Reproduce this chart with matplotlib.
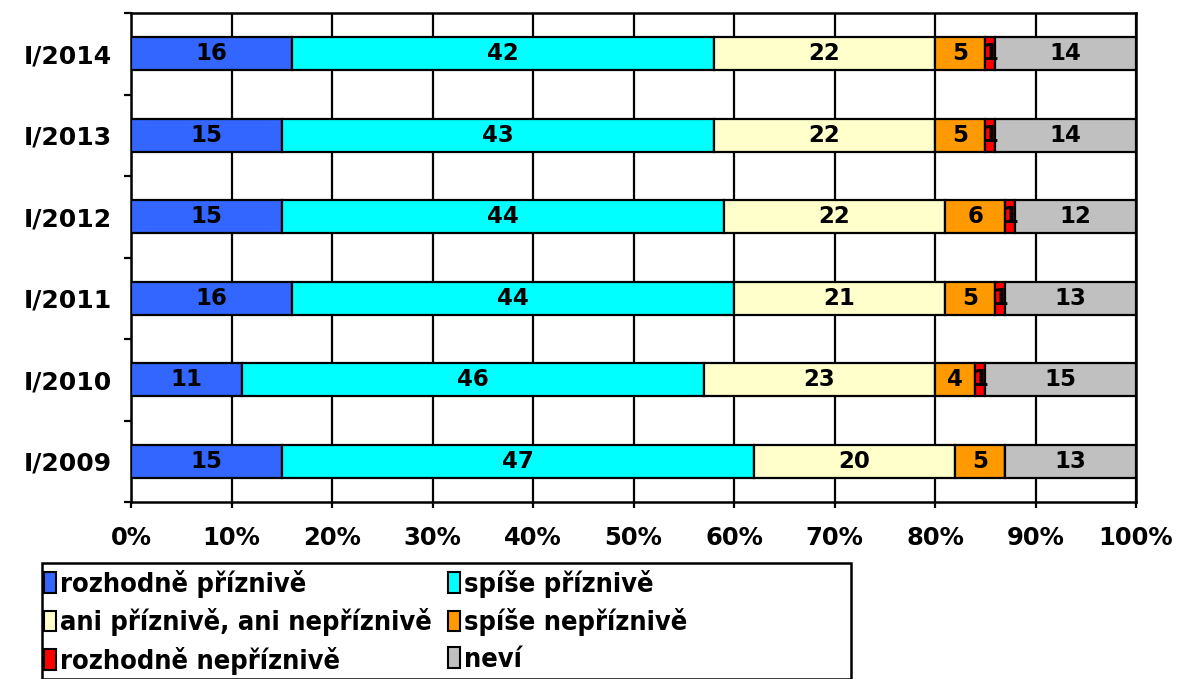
import matplotlib
matplotlib.use("Agg")
import matplotlib.pyplot as plt
from matplotlib.patches import Rectangle
import numpy as np

categories = ["I/2014", "I/2013", "I/2012", "I/2011", "I/2010", "I/2009"]
series_names = ["rozhodně příznivě", "spíše příznivě", "ani příznivě, ani nepříznivě",
                "spíše nepříznivě", "rozhodně nepříznivě", "neví"]
rozhodne_priznive = [16, 15, 15, 16, 11, 15]
spise_priznive = [42, 43, 44, 44, 46, 47]
ani_ani = [22, 22, 22, 21, 23, 20]
spise_nepriznive = [5, 5, 6, 5, 4, 5]
rozhodne_nepriznive = [1, 1, 1, 1, 1, 0]
nevi = [14, 14, 12, 13, 15, 13]
x_ticks = [0, 10, 20, 30, 40, 50, 60, 70, 80, 90, 100]
x_tick_labels = ["0%", "10%", "20%", "30%", "40%", "50%", "60%", "70%", "80%", "90%", "100%"]

colors = ["#3366FF", "#00FFFF", "#FFFFCC", "#FF9900", "#FF0000", "#C0C0C0"]
series = [rozhodne_priznive, spise_priznive, ani_ani, spise_nepriznive, rozhodne_nepriznive, nevi]

plt.rcParams['font.family'] = ['DejaVu Sans']
plt.rcParams['font.weight'] = 'bold'

fig = plt.figure(figsize=(11.79, 6.79), dpi=100)
ax = fig.add_axes([131/1179, 1-502/679, (1136-131)/1179, (502-13)/679])

n = len(categories)
ypos = np.arange(n)[::-1]  # top category at top
left = np.zeros(n)
handles = []
for vals, col, name in zip(series, colors, series_names):
    vals = np.array(vals, dtype=float)
    bars = ax.barh(ypos, vals, left=left, height=0.40, color=col, edgecolor='black',
                   linewidth=1.6, zorder=3, label=name)
    handles.append(bars)
    for y, l, v in zip(ypos, left, vals):
        if v > 0:
            ax.text(l + v/2, y, f"{int(v)}", ha='center', va='center', fontsize=16.5,
                    fontweight='bold', zorder=4)
    left += vals

ax.set_xlim(0, 100)
ax.set_ylim(-0.5, n-0.5)
ax.set_xticks(x_ticks)
ax.set_xticklabels(x_tick_labels, fontsize=17.5, fontweight='bold')
ax.set_yticks(ypos)
ax.set_yticklabels(categories, fontsize=18, fontweight='bold')
ax.set_yticks(np.arange(-0.5, n, 1.0), minor=True)
ax.tick_params(axis='y', which='major', length=0, pad=14)
ax.tick_params(axis='y', which='minor', length=5, width=1.6, direction='out')
ax.tick_params(axis='x', which='major', length=4, width=1.6, direction='out', pad=13)
ax.xaxis.grid(True, color='black', linewidth=1.6, zorder=0)
ax.set_axisbelow(True)
for s in ax.spines.values():
    s.set_linewidth(1.8)

# legend: row-wise order (matplotlib fills columns first)
order = [0, 2, 4, 1, 3, 5]
leg = fig.legend(handles=[handles[i] for i in order], labels=[series_names[i] for i in order],
                 loc='upper left',
                 bbox_to_anchor=(44/1179, 1-570/679), ncol=2, frameon=False,
                 handlelength=0.45, handleheight=0.8, handletextpad=0.15,
                 columnspacing=0.6, labelspacing=0.38, borderaxespad=0, borderpad=0,
                 prop={'size': 19.5, 'weight': 'bold', 'stretch': 'condensed'})
for h in leg.legend_handles:
    h.set_edgecolor('black')
    h.set_linewidth(1.5)

fig.patches.append(Rectangle((42/1179, 0), (851-42)/1179, 1-563/679, transform=fig.transFigure,
                             fill=False, edgecolor='black', linewidth=1.8, zorder=0))

fig.savefig("out.png", dpi=100)
